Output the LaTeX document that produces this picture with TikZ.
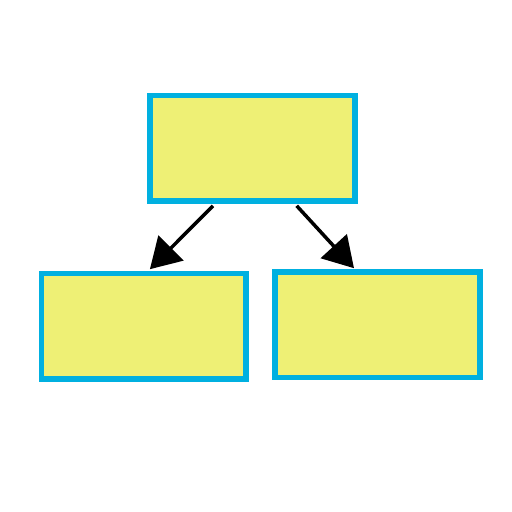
\documentclass[tikz,border=0pt]{standalone}
\usetikzlibrary{arrows.meta}
\definecolor{boxfill}{HTML}{EEF075}
\definecolor{boxline}{HTML}{00B0E0}
\begin{document}
\begin{tikzpicture}[x=1pt,y=-1pt,
  box/.style={draw=boxline,fill=boxfill,line width=5.7pt,minimum width=204.7pt,minimum height=105.3pt,inner sep=0pt},
  arr/.style={line width=3.5pt,-{Triangle[length=30pt,width=35pt]}}]
\useasboundingbox (0,0) rectangle (512,512);
\node[box] (top) at (252.5,148) {};
\node[box] (left) at (143.9,326.2) {};
\node[box] (right) at (377.5,324.7) {};
\draw[arr] ([xshift=-39.5pt,yshift=-2.3pt]top.south) -- ([xshift=6pt,yshift=1.5pt]left.north);
\draw[arr] ([xshift=44.2pt,yshift=-2.3pt]top.south) -- ([xshift=-23.5pt,yshift=1pt]right.north);
\end{tikzpicture}
\end{document}
